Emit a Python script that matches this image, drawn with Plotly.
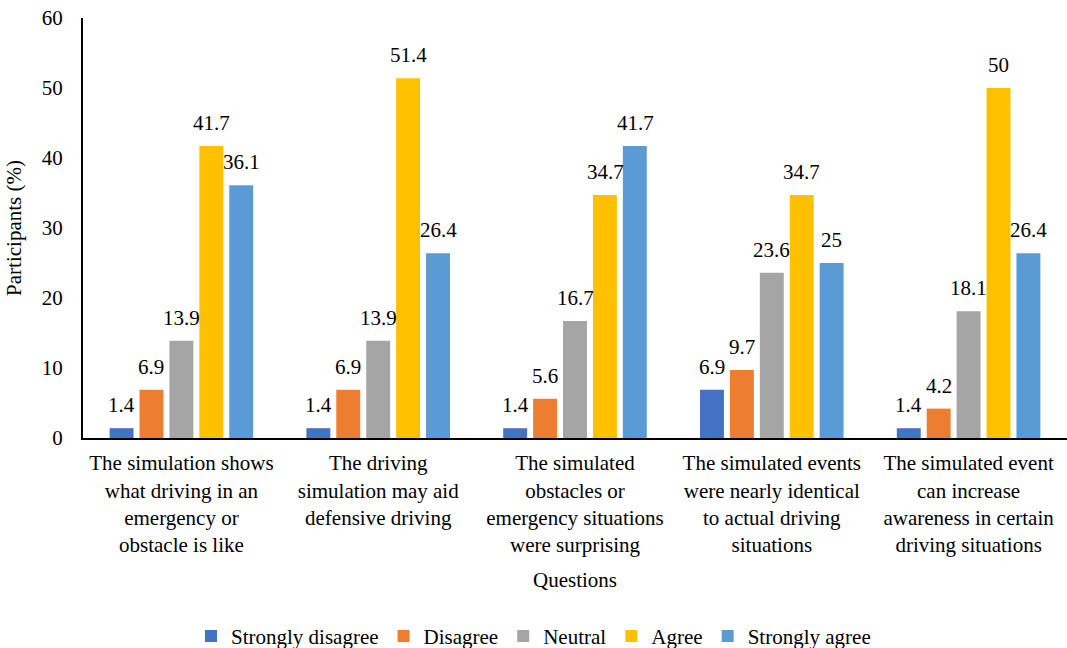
import plotly.graph_objects as go

questions = [
    "The simulation shows<br>what driving in an<br>emergency or<br>obstacle is like",
    "The driving<br>simulation may aid<br>defensive driving",
    "The simulated<br>obstacles or<br>emergency situations<br>were surprising",
    "The simulated events<br>were nearly identical<br>to actual driving<br>situations",
    "The simulated event<br>can increase<br>awareness in certain<br>driving situations",
]

strongly_disagree = [1.4, 1.4, 1.4, 6.9, 1.4]
disagree = [6.9, 6.9, 5.6, 9.7, 4.2]
neutral = [13.9, 13.9, 16.7, 23.6, 18.1]
agree = [41.7, 51.4, 34.7, 34.7, 50]
strongly_agree = [36.1, 26.4, 41.7, 25, 26.4]

series = [
    ("Strongly disagree", strongly_disagree, "#4472C4"),
    ("Disagree", disagree, "#ED7D31"),
    ("Neutral", neutral, "#A5A5A5"),
    ("Agree", agree, "#FFC000"),
    ("Strongly agree", strongly_agree, "#5B9BD5"),
]

FONT = "Liberation Serif"
SIZE = 21
TEXT_COLOR = "black"
SLOT = 30  # pixel distance between neighbouring bars in a group


def text_font():
    return dict(family=FONT, size=SIZE, color=TEXT_COLOR)


fig = go.Figure()
for name, vals, color in series:
    fig.add_trace(go.Bar(
        name=name,
        x=questions,
        y=vals,
        marker=dict(color=color, line=dict(width=0)),
    ))

# value labels above each bar
n = len(series)
for i, (name, vals, color) in enumerate(series):
    for q, v in zip(questions, vals):
        fig.add_annotation(
            x=q, y=v, xref="x", yref="y",
            text=f"{v:g}", showarrow=False,
            xshift=(i - (n - 1) / 2) * SLOT,
            yanchor="bottom", yshift=9,
            font=text_font(),
        )

fig.update_layout(
    width=1067,
    height=648,
    barmode="group",
    bargap=0.24,
    bargroupgap=0.2,
    plot_bgcolor="white",
    paper_bgcolor="white",
    margin=dict(l=83, r=0, t=18, b=210),
    showlegend=True,
    legend=dict(
        orientation="h",
        xref="container", x=0.5, xanchor="center",
        yref="container", y=0.018, yanchor="middle",
        font=text_font(),
        itemwidth=30,
        tracegroupgap=0,
    ),
    xaxis=dict(
        showline=True, linecolor="black", linewidth=2,
        showgrid=False, ticks="",
        tickfont=text_font(),
        ticklabelstandoff=5,
        title=dict(text="Questions", font=text_font(), standoff=16),
    ),
    yaxis=dict(
        range=[0, 60], dtick=10,
        showline=True, linecolor="black", linewidth=2,
        showgrid=False, zeroline=False, ticks="",
        tickfont=text_font(),
        ticklabelstandoff=14,
        title=dict(text="Participants (%)", font=text_font(), standoff=14),
    ),
)

fig.write_html("out.html")
